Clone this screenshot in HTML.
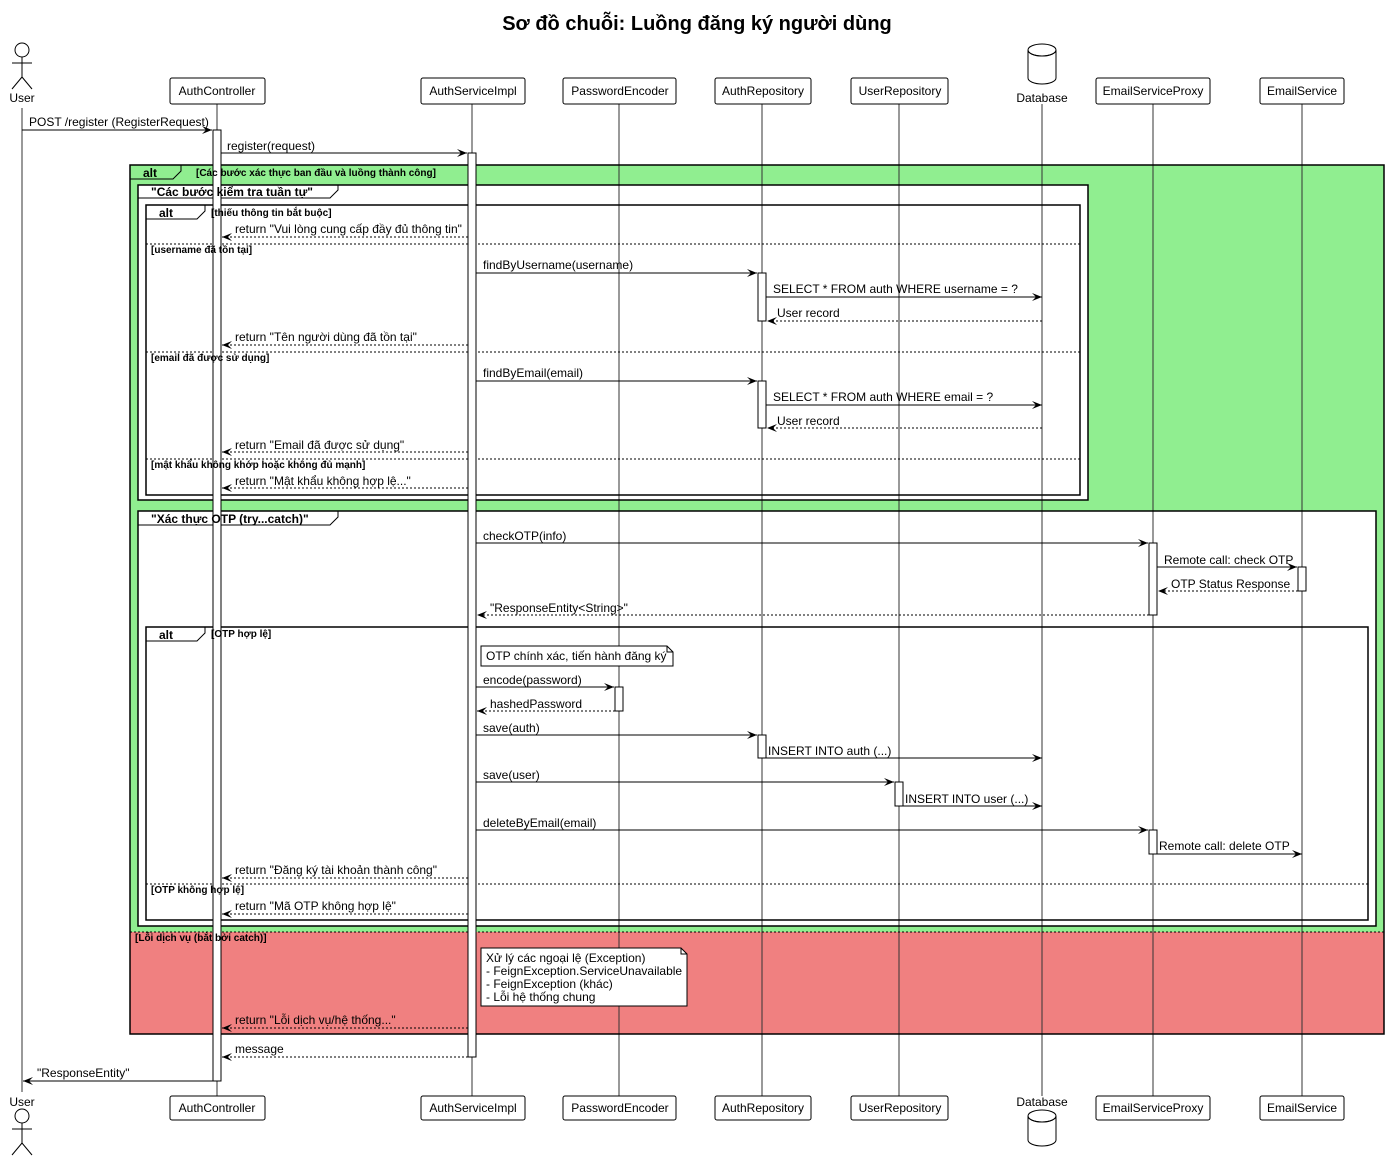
<!DOCTYPE html>
<html><head><meta charset="utf-8">
<style>
html,body{margin:0;padding:0;background:#fff;}
svg{display:block;}
text{font-family:"Liberation Sans","DejaVu Sans",sans-serif;font-size:12px;fill:#000;}
.b{font-weight:bold;font-size:10px;}
.bt{font-weight:bold;font-size:12px;}
.ln{stroke:#000;stroke-width:1;}
.ll{stroke:#333;stroke-width:1;}
.d{stroke:#000;stroke-width:1;stroke-dasharray:2,2;}
.dv{stroke:#000;stroke-width:1;stroke-dasharray:2,2;}
.box{fill:#fff;stroke:#000;stroke-width:1;}
.act{fill:#fff;stroke:#000;stroke-width:1;}
.fr{fill:none;stroke:#000;stroke-width:1.5;}
</style></head><body>
<svg width="1389" height="1160" viewBox="0 0 1389 1160" xmlns="http://www.w3.org/2000/svg">
<defs>
<marker id="a" markerWidth="10" markerHeight="8" refX="10" refY="4" orient="auto" markerUnits="userSpaceOnUse">
<path d="M0,0 L10,4 L0,8 L4,4 Z" fill="#000"/></marker>
</defs>
<text x="697" y="30" text-anchor="middle" style="font-weight:bold;font-size:20px">Sơ đồ chuỗi: Luồng đăng ký người dùng</text>

<rect x="130" y="165" width="1254" height="767" fill="#90EE90"/>
<rect x="130" y="932" width="1254" height="102" fill="#F08080"/>
<rect x="138" y="185" width="950" height="315" fill="#fff"/>
<rect x="138" y="511" width="1238" height="415" fill="#fff"/>

<line class="ll" x1="22" y1="108" x2="22" y2="1092"/>
<line class="ll" x1="217" y1="104" x2="217" y2="1096"/>
<line class="ll" x1="472" y1="104" x2="472" y2="1096"/>
<line class="ll" x1="619" y1="104" x2="619" y2="1096"/>
<line class="ll" x1="762" y1="104" x2="762" y2="1096"/>
<line class="ll" x1="899" y1="104" x2="899" y2="1096"/>
<line class="ll" x1="1042" y1="104" x2="1042" y2="1096"/>
<line class="ll" x1="1153" y1="104" x2="1153" y2="1096"/>
<line class="ll" x1="1302" y1="104" x2="1302" y2="1096"/>

<rect class="fr" x="130" y="165" width="1254" height="869"/>
<path class="ln" d="M130,179 H173 L181,171 V165" fill="none"/>
<line class="dv" x1="130" y1="932" x2="1384" y2="932"/>
<rect class="fr" x="138" y="185" width="950" height="315"/>
<path class="ln" d="M138,198 H330 L338,190 V185" fill="none"/>
<rect class="fr" x="146" y="205" width="934" height="290"/>
<path class="ln" d="M146,219 H197 L205,211 V205" fill="none"/>
<line class="dv" x1="146" y1="244" x2="1080" y2="244"/>
<line class="dv" x1="146" y1="352" x2="1080" y2="352"/>
<line class="dv" x1="146" y1="459" x2="1080" y2="459"/>
<rect class="fr" x="138" y="511" width="1238" height="415"/>
<path class="ln" d="M138,525 H330 L338,517 V511" fill="none"/>
<rect class="fr" x="146" y="627" width="1222" height="293"/>
<path class="ln" d="M146,641 H197 L205,633 V627" fill="none"/>
<line class="dv" x1="146" y1="884" x2="1368" y2="884"/>

<rect class="act" x="213" y="130" width="8" height="951"/>
<rect class="act" x="468" y="153" width="8" height="904"/>
<rect class="act" x="758" y="273" width="8" height="48"/>
<rect class="act" x="758" y="381" width="8" height="47"/>
<rect class="act" x="758" y="735" width="8" height="23"/>
<rect class="act" x="615" y="687" width="8" height="24"/>
<rect class="act" x="895" y="782" width="8" height="24"/>
<rect class="act" x="1149" y="543" width="8" height="72"/>
<rect class="act" x="1149" y="830" width="8" height="24"/>
<rect class="act" x="1298" y="567" width="8" height="24"/>

<text class="bt" x="143" y="177">alt</text>
<text class="b" x="196" y="176">[Các bước xác thực ban đầu và luồng thành công]</text>
<text class="b" x="135" y="941">[Lỗi dịch vụ (bắt bởi catch)]</text>
<text class="bt" x="151" y="196">"Các bước kiểm tra tuần tự"</text>
<text class="bt" x="159" y="217">alt</text>
<text class="b" x="211" y="216">[thiếu thông tin bắt buộc]</text>
<text class="b" x="151" y="253">[username đã tồn tại]</text>
<text class="b" x="151" y="361">[email đã được sử dụng]</text>
<text class="b" x="151" y="468">[mật khẩu không khớp hoặc không đủ mạnh]</text>
<text class="bt" x="151" y="523">"Xác thực OTP (try...catch)"</text>
<text class="bt" x="159" y="639">alt</text>
<text class="b" x="211" y="637">[OTP hợp lệ]</text>
<text class="b" x="151" y="893">[OTP không hợp lệ]</text>

<path d="M481,646 H667 L673,652 V666 H481 Z" fill="#fff" stroke="#000"/>
<path d="M667,646 V652 H673" fill="none" stroke="#000"/>
<text x="486" y="660">OTP chính xác, tiến hành đăng ký</text>
<path d="M481,948 H681 L687,954 V1006 H481 Z" fill="#fff" stroke="#000"/>
<path d="M681,948 V954 H687" fill="none" stroke="#000"/>
<text x="486" y="962">Xử lý các ngoại lệ (Exception)</text>
<text x="486" y="975">- FeignException.ServiceUnavailable</text>
<text x="486" y="988">- FeignException (khác)</text>
<text x="486" y="1001">- Lỗi hệ thống chung</text>

<line class="ln" x1="22" y1="130" x2="212" y2="130" marker-end="url(#a)"/>
<text x="29" y="126">POST /register (RegisterRequest)</text>
<line class="ln" x1="221" y1="153" x2="467" y2="153" marker-end="url(#a)"/>
<text x="227" y="150">register(request)</text>

<line class="d" x1="468" y1="237" x2="222" y2="237" marker-end="url(#a)"/>
<text x="235" y="233">return "Vui lòng cung cấp đầy đủ thông tin"</text>
<line class="ln" x1="476" y1="273" x2="757" y2="273" marker-end="url(#a)"/>
<text x="483" y="269">findByUsername(username)</text>
<line class="ln" x1="766" y1="297" x2="1042" y2="297" marker-end="url(#a)"/>
<text x="773" y="293">SELECT * FROM auth WHERE username = ?</text>
<line class="d" x1="1042" y1="321" x2="767" y2="321" marker-end="url(#a)"/>
<text x="777" y="317">User record</text>
<line class="d" x1="468" y1="345" x2="222" y2="345" marker-end="url(#a)"/>
<text x="235" y="341">return "Tên người dùng đã tồn tại"</text>

<line class="ln" x1="476" y1="381" x2="757" y2="381" marker-end="url(#a)"/>
<text x="483" y="377">findByEmail(email)</text>
<line class="ln" x1="766" y1="405" x2="1042" y2="405" marker-end="url(#a)"/>
<text x="773" y="401">SELECT * FROM auth WHERE email = ?</text>
<line class="d" x1="1042" y1="428" x2="767" y2="428" marker-end="url(#a)"/>
<text x="777" y="425">User record</text>
<line class="d" x1="468" y1="452" x2="222" y2="452" marker-end="url(#a)"/>
<text x="235" y="449">return "Email đã được sử dụng"</text>
<line class="d" x1="468" y1="488" x2="222" y2="488" marker-end="url(#a)"/>
<text x="235" y="485">return "Mật khẩu không hợp lệ..."</text>

<line class="ln" x1="476" y1="543" x2="1148" y2="543" marker-end="url(#a)"/>
<text x="483" y="540">checkOTP(info)</text>
<line class="ln" x1="1157" y1="567" x2="1297" y2="567" marker-end="url(#a)"/>
<text x="1164" y="564">Remote call: check OTP</text>
<line class="d" x1="1298" y1="591" x2="1158" y2="591" marker-end="url(#a)"/>
<text x="1171" y="588">OTP Status Response</text>
<line class="d" x1="1149" y1="615" x2="477" y2="615" marker-end="url(#a)"/>
<text x="490" y="612">"ResponseEntity&lt;String&gt;"</text>

<line class="ln" x1="476" y1="687" x2="614" y2="687" marker-end="url(#a)"/>
<text x="483" y="684">encode(password)</text>
<line class="d" x1="615" y1="711" x2="477" y2="711" marker-end="url(#a)"/>
<text x="490" y="708">hashedPassword</text>
<line class="ln" x1="476" y1="735" x2="757" y2="735" marker-end="url(#a)"/>
<text x="483" y="732">save(auth)</text>
<line class="ln" x1="766" y1="758" x2="1042" y2="758" marker-end="url(#a)"/>
<text x="768" y="755">INSERT INTO auth (...)</text>
<line class="ln" x1="476" y1="782" x2="894" y2="782" marker-end="url(#a)"/>
<text x="483" y="779">save(user)</text>
<line class="ln" x1="903" y1="806" x2="1042" y2="806" marker-end="url(#a)"/>
<text x="905" y="803">INSERT INTO user (...)</text>
<line class="ln" x1="476" y1="830" x2="1148" y2="830" marker-end="url(#a)"/>
<text x="483" y="827">deleteByEmail(email)</text>
<line class="ln" x1="1157" y1="854" x2="1302" y2="854" marker-end="url(#a)"/>
<text x="1159" y="850">Remote call: delete OTP</text>
<line class="d" x1="468" y1="878" x2="222" y2="878" marker-end="url(#a)"/>
<text x="235" y="874">return "Đăng ký tài khoản thành công"</text>
<line class="d" x1="468" y1="914" x2="222" y2="914" marker-end="url(#a)"/>
<text x="235" y="910">return "Mã OTP không hợp lệ"</text>

<line class="d" x1="468" y1="1028" x2="222" y2="1028" marker-end="url(#a)"/>
<text x="235" y="1024">return "Lỗi dịch vụ/hệ thống..."</text>
<line class="d" x1="468" y1="1057" x2="222" y2="1057" marker-end="url(#a)"/>
<text x="235" y="1053">message</text>
<line class="ln" x1="213" y1="1081" x2="23" y2="1081" marker-end="url(#a)"/>
<text x="37" y="1077">"ResponseEntity"</text>

<g fill="none" stroke="#000" stroke-width="1">
<circle cx="22" cy="50" r="7"/>
<line x1="22" y1="57" x2="22" y2="77"/>
<line x1="12" y1="63" x2="32" y2="63"/>
<line x1="22" y1="77" x2="12" y2="89"/>
<line x1="22" y1="77" x2="32" y2="89"/>
<circle cx="22" cy="1116" r="7"/>
<line x1="22" y1="1123" x2="22" y2="1143"/>
<line x1="12" y1="1129" x2="32" y2="1129"/>
<line x1="22" y1="1143" x2="12" y2="1155"/>
<line x1="22" y1="1143" x2="32" y2="1155"/>
</g>
<text x="22" y="102" text-anchor="middle">User</text>
<text x="22" y="1106" text-anchor="middle">User</text>

<g>
<rect class="box" x="170" y="78" width="95" height="26" rx="2"/><text x="217" y="95" text-anchor="middle">AuthController</text>
<rect class="box" x="421" y="78" width="104" height="26" rx="2"/><text x="473" y="95" text-anchor="middle">AuthServiceImpl</text>
<rect class="box" x="563" y="78" width="113" height="26" rx="2"/><text x="620" y="95" text-anchor="middle">PasswordEncoder</text>
<rect class="box" x="715" y="78" width="96" height="26" rx="2"/><text x="763" y="95" text-anchor="middle">AuthRepository</text>
<rect class="box" x="851" y="78" width="97" height="26" rx="2"/><text x="900" y="95" text-anchor="middle">UserRepository</text>
<rect class="box" x="1096" y="78" width="114" height="26" rx="2"/><text x="1153" y="95" text-anchor="middle">EmailServiceProxy</text>
<rect class="box" x="1260" y="78" width="84" height="26" rx="2"/><text x="1302" y="95" text-anchor="middle">EmailService</text>

<rect class="box" x="170" y="1096" width="95" height="24" rx="2"/><text x="217" y="1112" text-anchor="middle">AuthController</text>
<rect class="box" x="421" y="1096" width="104" height="24" rx="2"/><text x="473" y="1112" text-anchor="middle">AuthServiceImpl</text>
<rect class="box" x="563" y="1096" width="113" height="24" rx="2"/><text x="620" y="1112" text-anchor="middle">PasswordEncoder</text>
<rect class="box" x="715" y="1096" width="96" height="24" rx="2"/><text x="763" y="1112" text-anchor="middle">AuthRepository</text>
<rect class="box" x="851" y="1096" width="97" height="24" rx="2"/><text x="900" y="1112" text-anchor="middle">UserRepository</text>
<rect class="box" x="1096" y="1096" width="114" height="24" rx="2"/><text x="1153" y="1112" text-anchor="middle">EmailServiceProxy</text>
<rect class="box" x="1260" y="1096" width="84" height="24" rx="2"/><text x="1302" y="1112" text-anchor="middle">EmailService</text>
</g>

<g fill="#fff" stroke="#000" stroke-width="1">
<path d="M1028,50 V78 A14,6 0 0 0 1056,78 V50"/>
<ellipse cx="1042" cy="50" rx="14" ry="6"/>
<path d="M1028,50 A14,6 0 0 0 1056,50" fill="none"/>
<path d="M1028,1116 V1140 A14,6 0 0 0 1056,1140 V1116"/>
<ellipse cx="1042" cy="1116" rx="14" ry="6"/>
<path d="M1028,1116 A14,6 0 0 0 1056,1116" fill="none"/>
</g>
<text x="1042" y="102" text-anchor="middle">Database</text>
<text x="1042" y="1106" text-anchor="middle">Database</text>
</svg>
</body></html>
